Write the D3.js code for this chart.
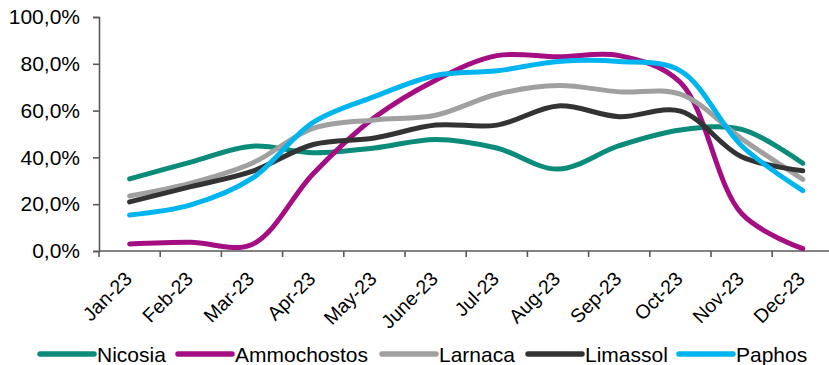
<!DOCTYPE html>
<html><head><meta charset="utf-8">
<script src="https://cdn.jsdelivr.net/npm/d3@7"></script>
<style>body{margin:0;background:#fff}svg{display:block}text{font-family:"Liberation Sans",Arial,sans-serif;fill:#000}</style>
</head><body><svg id="c" width="829" height="365"></svg>
<script>
const months = ["Jan-23","Feb-23","Mar-23","Apr-23","May-23","June-23","Jul-23","Aug-23","Sep-23","Oct-23","Nov-23","Dec-23"];
const yTicks = [0,0.2,0.4,0.6,0.8,1.0];
const nicosia     = [0.308,0.380,0.448,0.420,0.440,0.477,0.440,0.350,0.450,0.517,0.520,0.375];
const ammochostos = [0.030,0.037,0.028,0.330,0.570,0.730,0.835,0.830,0.835,0.720,0.160,0.010];
const larnaca     = [0.235,0.290,0.375,0.524,0.560,0.580,0.670,0.707,0.680,0.670,0.480,0.306];
const limassol    = [0.210,0.275,0.340,0.455,0.483,0.538,0.538,0.620,0.574,0.598,0.403,0.343];
const paphos      = [0.154,0.197,0.310,0.550,0.660,0.750,0.770,0.810,0.810,0.770,0.450,0.258];
const seriesNames = ["Nicosia","Ammochostos","Larnaca","Limassol","Paphos"];
const seriesColors = ["#0b8b7a","#a50e82","#a0a0a0","#333333","#00b5ef"];
const seriesData = [nicosia,ammochostos,larnaca,limassol,paphos];

const svg = d3.select("#c");
const x0 = 99, x1 = 833.4, yTop = 17, yBot = 251;
const xb = d3.scaleBand().domain(months).range([x0,x1]);
const x = d => xb(d) + xb.bandwidth()/2;
const y = d3.scaleLinear().domain([0,1]).range([yBot,yTop]);
const fmt = v => d3.format(".1f")(v*100).replace(".",",") + "%";

// y axis
const ya = svg.append("g").attr("transform",`translate(${x0},0)`)
  .call(d3.axisLeft(y).tickValues(yTicks).tickSize(6).tickPadding(13).tickFormat(fmt));
ya.select(".domain").attr("stroke","#5a5a5a").attr("stroke-width",1.6);
ya.selectAll(".tick line").attr("stroke","#5a5a5a").attr("stroke-width",1.6);
ya.selectAll("text").style("font-size","21px").attr("fill","#000");

// x axis
const xa = svg.append("g").attr("transform",`translate(0,${yBot})`)
  .call(d3.axisBottom(xb).tickSize(0).tickPadding(0));
xa.select(".domain").attr("stroke","#5a5a5a").attr("stroke-width",1.6).attr("d",`M${x0},0H${x1+10}`);
xa.selectAll(".tick line").remove();
xa.selectAll(".tick text").attr("text-anchor","end").attr("dy",null).attr("y",null)
  .attr("transform","translate(3.5,29) rotate(-45)").style("font-size","19.5px").attr("fill","#000");
// boundary ticks
const bounds = months.map(m=>xb(m)).concat([x1]);
svg.append("g").selectAll("line").data(bounds).join("line")
  .attr("x1",d=>d).attr("x2",d=>d).attr("y1",yBot).attr("y2",yBot+6)
  .attr("stroke","#5a5a5a").attr("stroke-width",1.6);

// lines
const line = d3.line().x((d,i)=>x(months[i])).y(d=>y(d)).curve(d3.curveCatmullRom.alpha(0.5));
svg.append("g").selectAll("path").data(seriesData).join("path")
  .attr("d",d=>line(d)).attr("fill","none")
  .attr("stroke",(d,i)=>seriesColors[i]).attr("stroke-width",5).attr("stroke-linecap","round");

// legend
const legX = [40,178,382,528,679];
const lg = svg.append("g").selectAll("g").data(seriesNames).join("g")
  .attr("transform",(d,i)=>`translate(${legX[i]},354)`);
lg.append("line").attr("x1",0).attr("x2",54).attr("y1",0).attr("y2",0)
  .attr("stroke",(d,i)=>seriesColors[i]).attr("stroke-width",5.5).attr("stroke-linecap","round");
lg.append("text").attr("x",57).attr("y",7.5).style("font-size","21px").text(d=>d);
</script></body></html>
